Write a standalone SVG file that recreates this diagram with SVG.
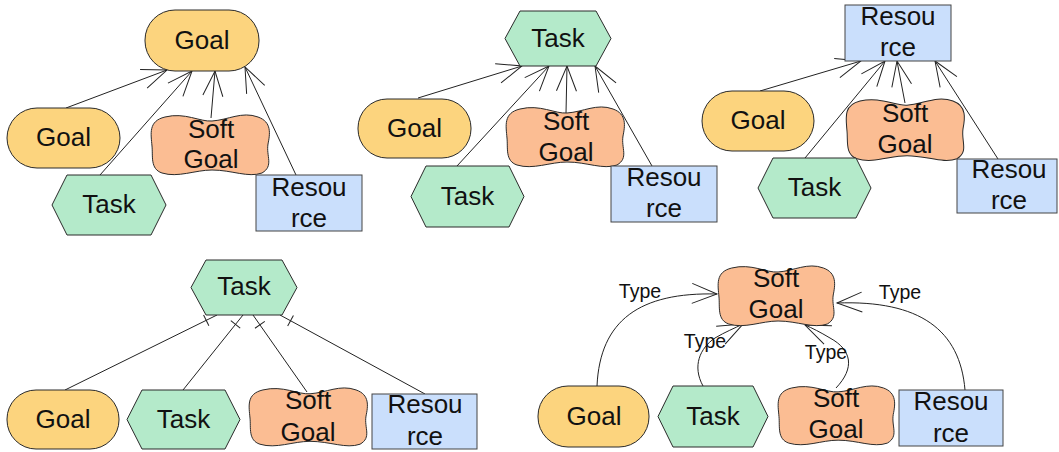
<svg xmlns="http://www.w3.org/2000/svg" xmlns:xlink="http://www.w3.org/1999/xlink" width="1059" height="452" viewBox="0 0 1059 452">
<style>
.goal{fill:#FCD47E;stroke:#2a2a2a;stroke-width:1}
.task{fill:#B4EACA;stroke:#2a2a2a;stroke-width:1}
.soft{fill:#FBBD93;stroke:#2a2a2a;stroke-width:1}
.res{fill:#CADFFC;stroke:#444;stroke-width:1}
.t{font-family:"Liberation Sans",Arial,sans-serif;font-size:26px;text-anchor:middle;fill:#111}
.lbl{font-family:"Liberation Sans",Arial,sans-serif;font-size:19.5px;text-anchor:middle;fill:#111}
.c{fill:none;stroke:#222;stroke-width:1}
.arr{marker-end:url(#open)}
.tick{marker-end:url(#tick)}
</style>
<defs>
<marker id="open" markerUnits="userSpaceOnUse" markerWidth="40" markerHeight="40" refX="0" refY="0" orient="auto" overflow="visible">
<path d="M-25,-10 L0,0 L-25,10" fill="none" stroke="#222" stroke-width="1"/>
</marker>
<marker id="tick" markerUnits="userSpaceOnUse" markerWidth="30" markerHeight="30" refX="0" refY="0" orient="auto" overflow="visible">
<path d="M-12,-6 L-12,6" fill="none" stroke="#222" stroke-width="1"/>
</marker>
<path id="cloud" d="M15,3 C35,-2 50,8 62,7 C78,6 92,-3 108,3 C122,8 120,20 118,30 C116,42 124,52 112,59 C98,64 82,56 62,56 C45,56 28,64 12,59 C0,55 3,42 2,32 C1,20 -2,7 15,3 Z"/>
</defs>

<g id="connectors">
<path class="c arr" d="M66,108 L167,70"/>
<path class="c arr" d="M100,175 L192,71"/>
<path class="c arr" d="M211,118 L215,71"/>
<path class="c arr" d="M296,175 L245,67"/>

<path class="c arr" d="M418,98 L522,66"/>
<path class="c arr" d="M457,166 L549,66"/>
<path class="c arr" d="M566,113 L567,66"/>
<path class="c arr" d="M652,166 L595,66"/>

<path class="c arr" d="M760,91 L861,61"/>
<path class="c arr" d="M805,158 L885,61"/>
<path class="c arr" d="M905,103 L897,61"/>
<path class="c arr" d="M998,159 L935,61"/>

<path class="c tick" d="M65,390 L217,315"/>
<path class="c tick" d="M183,390 L243,315"/>
<path class="c tick" d="M307,392 L253,315"/>
<path class="c tick" d="M425,394 L280,315"/>

<path class="c arr" d="M597,386 C600,320 640,292 717,294"/>
<path class="c arr" d="M703,386 C692,366 700,348 715,338 C725,332 735,328 743,324"/>
<path class="c arr" d="M836,388 C855,368 852,350 830,338 C820,332 812,328 805,325"/>
<path class="c arr" d="M965,390 C960,330 920,300 837,303"/>
<text class="lbl" x="640" y="298">Type</text>
<text class="lbl" x="705" y="348">Type</text>
<text class="lbl" x="826" y="359">Type</text>
<text class="lbl" x="900" y="299">Type</text>
</g>

<!-- Panel 1 -->
<g id="p1-goal-top"><rect class="goal" x="145" y="10" width="114" height="61" rx="30"/><text class="t" x="202" y="49">Goal</text></g>
<g id="p1-goal"><rect class="goal" x="7" y="108" width="113" height="60" rx="30"/><text class="t" x="63.5" y="146">Goal</text></g>
<g id="p1-soft"><use xlink:href="#cloud" class="soft" transform="translate(150,114)"/><text class="t" x="211" y="138">Soft</text><text class="t" x="211" y="168">Goal</text></g>
<g id="p1-task"><polygon class="task" points="52,205 67,175 151,175 166,205 151,235 67,235"/><text class="t" x="109" y="213">Task</text></g>
<g id="p1-res"><rect class="res" x="256" y="175" width="106" height="56"/><text class="t" x="309" y="196">Resou</text><text class="t" x="309" y="227">rce</text></g>

<!-- Panel 2 -->
<g id="p2-task-top"><polygon class="task" points="505,38.5 520,11 596,11 611,38.5 596,66 520,66"/><text class="t" x="558" y="47">Task</text></g>
<g id="p2-goal"><rect class="goal" x="358" y="99" width="113" height="59" rx="29"/><text class="t" x="414.5" y="137">Goal</text></g>
<g id="p2-soft"><use xlink:href="#cloud" class="soft" transform="translate(505,106)"/><text class="t" x="566" y="130">Soft</text><text class="t" x="566" y="161">Goal</text></g>
<g id="p2-task"><polygon class="task" points="411,196.5 426,166 509,166 524,196.5 509,227 426,227"/><text class="t" x="467.5" y="205">Task</text></g>
<g id="p2-res"><rect class="res" x="611" y="166" width="106" height="56"/><text class="t" x="664" y="186">Resou</text><text class="t" x="664" y="217">rce</text></g>

<!-- Panel 3 -->
<g id="p3-res-top"><rect class="res" x="845" y="5" width="106" height="56"/><text class="t" x="898" y="25">Resou</text><text class="t" x="898" y="56">rce</text></g>
<g id="p3-goal"><rect class="goal" x="702" y="91" width="112" height="60" rx="30"/><text class="t" x="758" y="129">Goal</text></g>
<g id="p3-soft"><use xlink:href="#cloud" class="soft" transform="translate(845,98) scale(1,1.03)"/><text class="t" x="905" y="122">Soft</text><text class="t" x="905" y="153">Goal</text></g>
<g id="p3-task"><polygon class="task" points="758,188 773,158 856,158 871,188 856,218 773,218"/><text class="t" x="814.5" y="196">Task</text></g>
<g id="p3-res"><rect class="res" x="957" y="159" width="100" height="54"/><text class="t" x="1009" y="178">Resou</text><text class="t" x="1009" y="209">rce</text></g>

<!-- Panel 4 -->
<g id="p4-task-top"><polygon class="task" points="191,287.5 206,260 282,260 297,287.5 282,315 206,315"/><text class="t" x="244" y="295">Task</text></g>
<g id="p4-goal"><rect class="goal" x="7" y="390" width="112" height="59" rx="29"/><text class="t" x="63" y="428">Goal</text></g>
<g id="p4-task"><polygon class="task" points="127,419.5 142,390 225,390 240,419.5 225,449 142,449"/><text class="t" x="183.5" y="428">Task</text></g>
<g id="p4-soft"><use xlink:href="#cloud" class="soft" transform="translate(248,387) scale(1,0.97)"/><text class="t" x="308" y="409">Soft</text><text class="t" x="308" y="441">Goal</text></g>
<g id="p4-res"><rect class="res" x="372" y="394" width="105" height="55"/><text class="t" x="425" y="413">Resou</text><text class="t" x="425" y="445">rce</text></g>

<!-- Panel 5 -->
<g id="p5-soft-top"><use xlink:href="#cloud" class="soft" transform="translate(717,265) scale(0.985,1)"/><text class="t" x="776" y="287">Soft</text><text class="t" x="776" y="318">Goal</text></g>
<g id="p5-goal"><rect class="goal" x="538" y="386" width="111" height="61" rx="30"/><text class="t" x="594" y="425">Goal</text></g>
<g id="p5-task"><polygon class="task" points="658,416.5 673,386 753,386 768,416.5 753,447 673,447"/><text class="t" x="713" y="425">Task</text></g>
<g id="p5-soft"><use xlink:href="#cloud" class="soft" transform="translate(777,385) scale(0.985,0.985)"/><text class="t" x="836" y="407">Soft</text><text class="t" x="836" y="438">Goal</text></g>
<g id="p5-res"><rect class="res" x="899" y="390" width="104" height="56"/><text class="t" x="951" y="410">Resou</text><text class="t" x="951" y="442">rce</text></g>
</svg>
